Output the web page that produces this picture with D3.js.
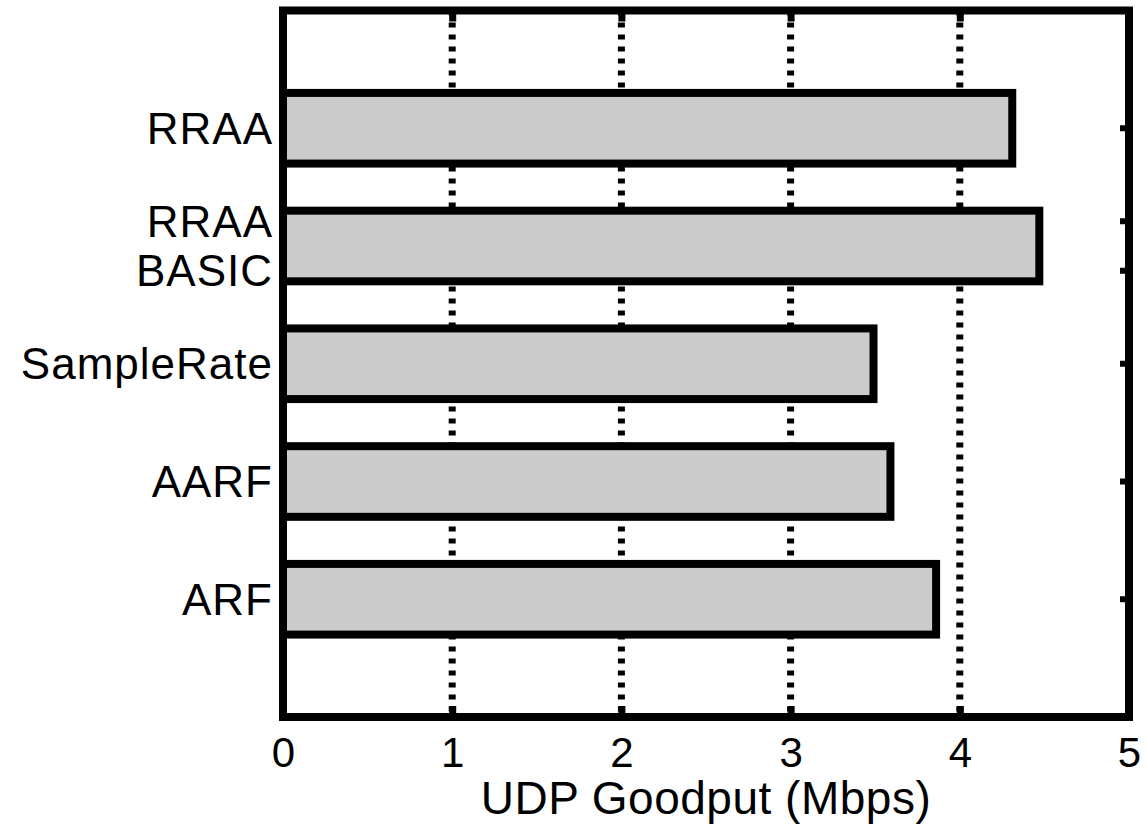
<!DOCTYPE html>
<html>
<head>
<meta charset="utf-8">
<script src="https://cdn.jsdelivr.net/npm/d3@7"></script>
<style>
  html, body { margin: 0; padding: 0; background: #fff; }
  svg { display: block; }
  text { font-family: "Liberation Sans", Arial, Helvetica, sans-serif; fill: #000; }
</style>
</head>
<body>
<svg id="chart" width="1147" height="824"></svg>
<script>
// Rate-adaptation schemes, bottom to top; "\n" splits a tick label over lines
const categories = ["ARF", "AARF", "SampleRate", "RRAA\nBASIC", "RRAA"];
// UDP goodput per scheme (Mbps)
const goodput = [3.86, 3.59, 3.49, 4.47, 4.31];
// Axis ticks
const xTicks = [0, 1, 2, 3, 4, 5];
const gridTicks = [1, 2, 3, 4];
const xLabel = "UDP Goodput (Mbps)";

const svg = d3.select("#chart");
const plot = { left: 283, right: 1129, top: 10.5, bottom: 717 };

const x = d3.scaleLinear().domain([0, 5]).range([plot.left, plot.right]);
// category slots 1..5 on a 0..6 axis
const y = d3.scaleLinear().domain([0, 6]).range([plot.bottom, plot.top]);
const barHeight = 0.6;
const lineGap = 49.5;
const catSize = 44;
const labelSize = 46;
const numSize = 42;

// dotted vertical grid
svg.append("g")
  .selectAll("line")
  .data(gridTicks)
  .join("line")
  .attr("x1", d => x(d)).attr("x2", d => x(d))
  .attr("y1", plot.top).attr("y2", plot.bottom)
  .attr("stroke", "#000")
  .attr("stroke-width", 7)
  .attr("stroke-dasharray", "5,7");

// horizontal bars
svg.append("g")
  .selectAll("rect")
  .data(goodput)
  .join("rect")
  .attr("x", x(0))
  .attr("y", (d, i) => y(i + 1 + barHeight / 2))
  .attr("width", d => x(d) - x(0))
  .attr("height", y(1 - barHeight / 2) - y(1 + barHeight / 2))
  .attr("fill", "#cbcbcb")
  .attr("stroke", "#000")
  .attr("stroke-width", 8);

// bottom axis: inward ticks, integer labels
const xAxis = svg.append("g")
  .attr("transform", `translate(0,${plot.bottom})`)
  .call(d3.axisBottom(x).tickValues(xTicks).tickFormat(d3.format("d"))
    .tickSizeInner(-11).tickSizeOuter(0).tickPadding(20));
xAxis.select(".domain").remove();
xAxis.selectAll(".tick line").attr("stroke", "#000").attr("stroke-width", 7);
xAxis.selectAll(".tick text").attr("font-size", numSize).attr("font-family", null);

// top axis: inward ticks only
const xTop = svg.append("g")
  .attr("transform", `translate(0,${plot.top})`)
  .call(d3.axisTop(x).tickValues(gridTicks).tickSizeInner(-11).tickSizeOuter(0).tickFormat(""));
xTop.select(".domain").remove();
xTop.selectAll(".tick line").attr("stroke", "#000").attr("stroke-width", 7);

// left axis: category labels, possibly on several lines
const yAxis = svg.append("g")
  .attr("transform", `translate(${plot.left},0)`)
  .call(d3.axisLeft(y).tickValues(d3.range(1, categories.length + 1))
    .tickSizeInner(-6).tickSizeOuter(0).tickPadding(10)
    .tickFormat(d => categories[d - 1]));
yAxis.select(".domain").remove();
yAxis.selectAll(".tick line").remove();
yAxis.selectAll(".tick text")
  .attr("font-size", catSize)
  .attr("font-family", null)
  .attr("letter-spacing", 1)
  .each(function(d) {
    const lines = categories[d - 1].split("\n");
    const t = d3.select(this).text(null).attr("dy", null);
    lines.forEach((ln, k) => {
      t.append("tspan")
        .attr("x", -10)
        .attr("y", (k - (lines.length - 1) / 2) * lineGap)
        .attr("dy", "0.34em")
        .text(ln);
    });
  });

// right edge: small inward ticks, one per label line
const rightTicks = [];
categories.forEach((c, i) => {
  const n = c.split("\n").length;
  for (let k = 0; k < n; k++) rightTicks.push(y(i + 1) + (k - (n - 1) / 2) * lineGap);
});
svg.append("g")
  .selectAll("line")
  .data(rightTicks)
  .join("line")
  .attr("x1", plot.right).attr("x2", plot.right - 9)
  .attr("y1", d => d).attr("y2", d => d)
  .attr("stroke", "#000")
  .attr("stroke-width", 6);

// plot frame
svg.append("rect")
  .attr("x", plot.left).attr("y", plot.top)
  .attr("width", plot.right - plot.left)
  .attr("height", plot.bottom - plot.top)
  .attr("fill", "none")
  .attr("stroke", "#000")
  .attr("stroke-width", 8);

// axis title
svg.append("text")
  .attr("x", (plot.left + plot.right) / 2)
  .attr("y", 814)
  .attr("text-anchor", "middle")
  .attr("font-size", labelSize)
  .attr("letter-spacing", 0.5)
  .text(xLabel);
</script>
</body>
</html>
